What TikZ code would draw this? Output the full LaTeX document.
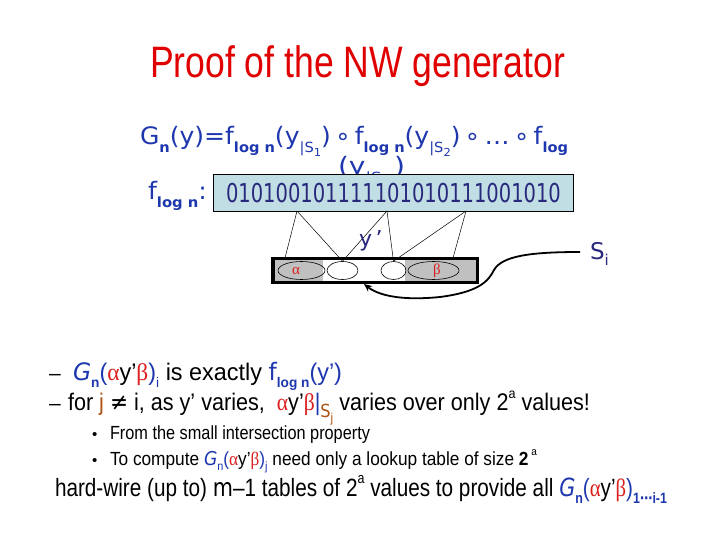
\documentclass[tikz,border=0pt]{standalone}
\usepackage{fontspec}
\setmainfont{Liberation Sans}
\newfontfamily\comic{DejaVu Sans}
\newfontfamily\grk{Liberation Serif}
\usepackage{graphicx}
\usetikzlibrary{arrows.meta,shapes.geometric}
\definecolor{titlered}{RGB}{225,0,0}
\definecolor{gblue}{RGB}{30,55,175}
\definecolor{navy}{RGB}{40,40,125}
\definecolor{boxfill}{RGB}{192,222,228}
\definecolor{grkred}{RGB}{220,30,30}
\definecolor{jbrown}{RGB}{175,85,20}
\definecolor{barfill}{RGB}{192,192,192}
\newcommand{\fitw}[2]{\resizebox{#1}{\height}{#2}}
\newcommand{\lo}[2]{\raisebox{-0.3em}{\fontsize{#1}{#1}\selectfont #2}}
\newcommand{\hi}[2]{\raisebox{0.5em}{\fontsize{#1}{#1}\selectfont #2}}
\newcommand{\ayb}{\textcolor{grkred}{\grk α}y’\textcolor{grkred}{\grk β}}
\tikzset{
  txt/.style={anchor=base west, inner sep=0pt, outer sep=0pt},
  link/.style={line width=0.5pt},
  oval/.style={draw, ellipse, line width=0.6pt, inner sep=0pt},
}
\begin{document}
\begin{tikzpicture}[x=1pt,y=-1pt]
\useasboundingbox (0,0) rectangle (720,540);
\fill[white] (0,0) rectangle (720,540);

% title
\node[txt, text=titlered, font=\fontsize{44}{50}\selectfont] (title) at (150,78)
  {\fitw{415pt}{Proof of the NW generator}};

% G_n line
\node[txt, text=gblue, font=\comic\fontsize{24}{28}\selectfont] (gline) at (140,145)
  {\fitw{428pt}{G\lo{14}{\textbf{n}}(y)=f\lo{14}{\textbf{log n}}(y\lo{14}{|S\lo{11}{1}})\,∘\,f\lo{14}{\textbf{log n}}(y\lo{14}{|S\lo{11}{2}})\,∘\,…\,∘\,f\lo{14}{\textbf{log}}}};
\node[txt, text=gblue, font=\comic\fontsize{24}{28}\selectfont] (gline2) at (338,175)
  {\fitw{67pt}{(y\lo{14}{|S\lo{11}{m}})}};

% f_log n label and tape
\node[txt, text=gblue, font=\comic\fontsize{24}{28}\selectfont] (flab) at (148,200)
  {\fitw{59pt}{f\lo{14}{\textbf{log n}}:}};
\node[draw=black, fill=boxfill, line width=0.8pt, minimum width=360pt, minimum height=37pt, inner sep=0pt] (tape) at (393,192.5) {};
\node[anchor=base, inner sep=0pt, text=navy, font=\comic\fontsize{26}{30}\selectfont] (bits) at (393.5,202.5)
  {\fitw{335pt}{010100101111101010111001010}};

% bar
\fill[barfill] (275,260) rectangle (323,281);
\fill[barfill] (405,260) rectangle (477,281);
\node[oval, minimum width=47pt, minimum height=18pt] (ea) at (301.5,270.5) {};
\node[oval, minimum width=31pt, minimum height=18pt] (eb) at (342.5,270.5) {};
\node[oval, minimum width=25pt, minimum height=18pt] (ec) at (393.5,270.5) {};
\node[oval, minimum width=51pt, minimum height=18pt] (ed) at (433.5,270.5) {};
\node[draw=black, line width=3.5pt, minimum width=204.5pt, minimum height=23.7pt, inner sep=0pt] (bar) at (375,270.4) {};
\node[text=grkred, font=\grk\fontsize{15}{16}\selectfont, inner sep=0pt] (alab) at (296,271) {α};
\node[text=grkred, font=\grk\fontsize{15}{16}\selectfont, inner sep=0pt] (blab) at (437,271) {β};

% connectors
\coordinate (t1) at (297,211);
\coordinate (t2) at (387,211);
\coordinate (t3) at (466,211);
\coordinate (b1) at (285,258);
\coordinate (b4) at (453,258);
\draw[link] (t1) -- (b1);
\draw[link] (t1) -- (eb.north);
\draw[link] (t2) -- (eb.north);
\draw[link] (t2) -- (ec.north);
\draw[link] (t3) -- (ec.north);
\draw[link] (t3) -- (b4);

\node[txt, text=navy, font=\comic\fontsize{22}{24}\selectfont] (yp) at (359,247) {y\,’};
\node[txt, text=navy, font=\comic\fontsize{23}{26}\selectfont] (si) at (590,259) {S\lo{15}{i}};

\coordinate (arrS) at (580,252);
\coordinate (arrE) at (364,284);
\draw[line width=1.8pt, -{Stealth[length=8pt,width=7pt]}] (arrS)
  .. controls (530,252) and (502,256) .. (494,270)
  .. controls (488,282) and (478,292) .. (440,297)
  .. controls (400,301) and (378,295) .. (arrE);

% bullet lines
\node[txt, font=\fontsize{21}{28}\selectfont] (dA) at (49,380) {–};
\node[txt, font=\fontsize{24}{28}\selectfont] (lA) at (73,380)
  {\fitw{269pt}{\textcolor{gblue}{{\comic\itshape G}\lo{14}{\textbf{n}}(}\ayb\textcolor{gblue}{)\lo{14}{i}} is exactly \textcolor{gblue}{{\comic f}\lo{14}{\textbf{log n}}(y’)}}};
\node[txt, font=\fontsize{21}{28}\selectfont] (dB) at (49,410) {–};
\node[txt, font=\fontsize{24}{28}\selectfont] (lB) at (68,410)
  {\fitw{522pt}{for \textcolor{jbrown}{j} {\comic ≠} i, as y’ varies,\ \ \ayb\textcolor{gblue}{|}\textcolor{jbrown}{\lo{18}{{\comic S}\lo{13}{j}}} varies over only 2\hi{14}{a} values!}};

\node[txt, font=\fontsize{15}{18}\selectfont] (bu1) at (92,439) {\textbullet};
\node[txt, font=\fontsize{19}{22}\selectfont] (l1) at (110,439)
  {\fitw{260pt}{From the small intersection property}};
\node[txt, font=\fontsize{15}{18}\selectfont] (bu2) at (92,465) {\textbullet};
\node[txt, font=\fontsize{19}{22}\selectfont] (l2) at (110,465)
  {\fitw{427pt}{To compute \textcolor{gblue}{{\comic\itshape G}\lo{12}{n}(}\ayb\textcolor{gblue}{)\lo{12}{j}} need only a lookup table of size \textbf{2}\,\hi{11}{a}}};

\node[txt, font=\fontsize{25}{30}\selectfont] (last) at (55,496)
  {\fitw{612pt}{hard-wire (up to) {\comic m}–1 tables of 2\hi{15}{a} values to provide all \textcolor{gblue}{{\comic\itshape G}\lo{15}{\textbf{n}}(}\ayb\textcolor{gblue}{)\lo{15}{\textbf{1{\comic ⋯}i-1}}}}};
\end{tikzpicture}
\end{document}
